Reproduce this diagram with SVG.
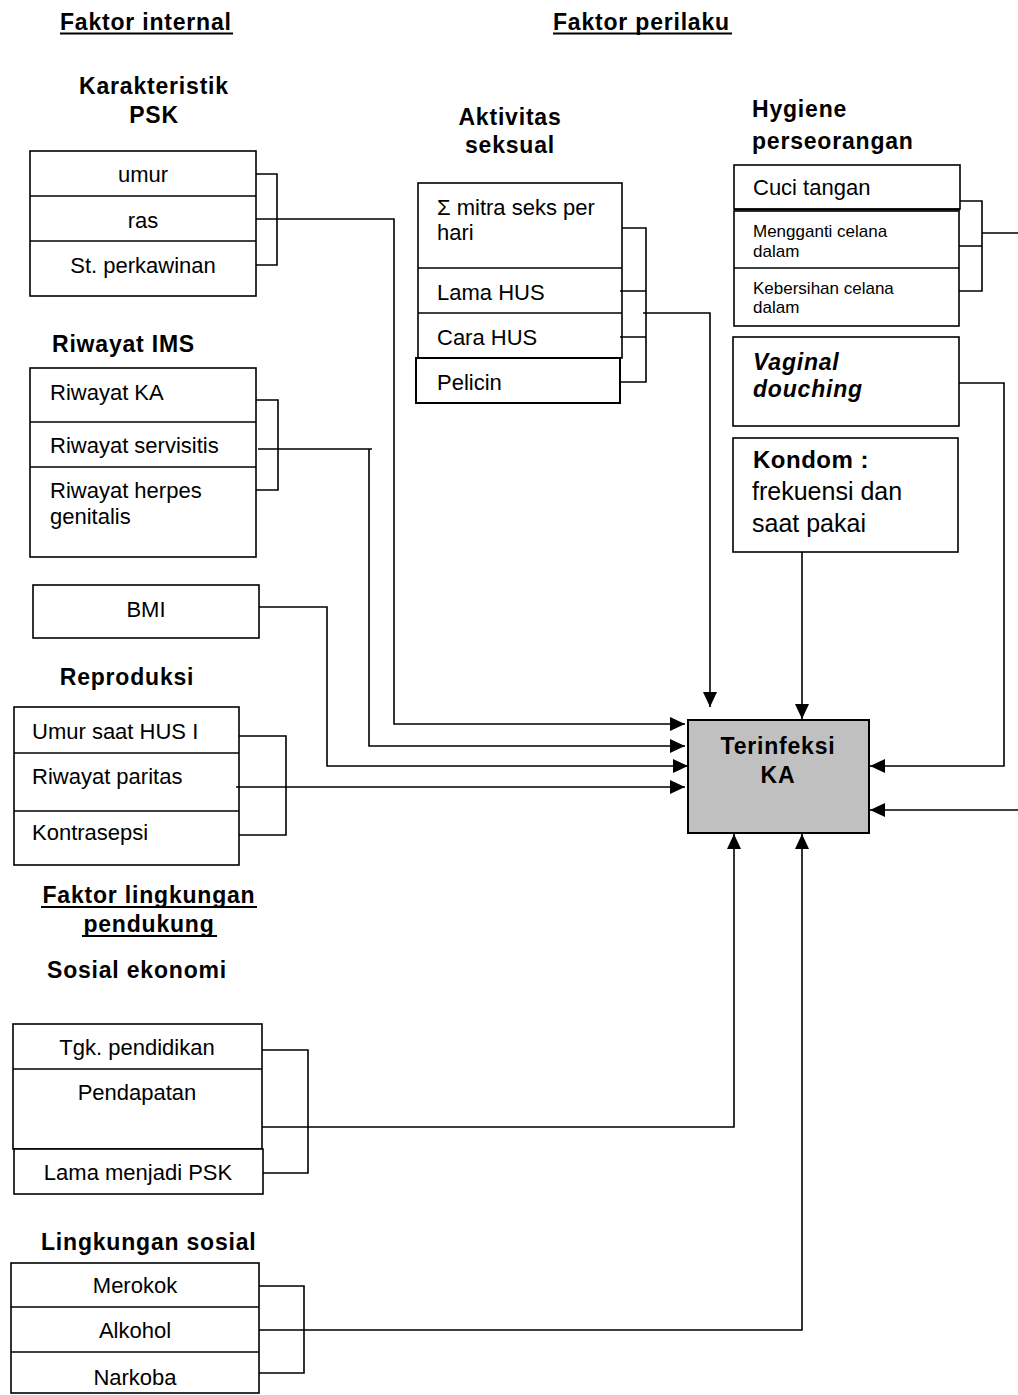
<svg xmlns="http://www.w3.org/2000/svg" width="1018" height="1395" viewBox="0 0 1018 1395">
<style>
text{font-family:"Liberation Sans",Arial,sans-serif;fill:#000}
.h{font-weight:bold;font-size:23px;letter-spacing:0.8px}
.t{font-size:22px}
.s{font-size:17px}
.k{font-size:25px}
.c{text-anchor:middle}
.box{fill:#fff;stroke:#000;stroke-width:1.6}
.div{stroke:#000;stroke-width:1.6}
.ul{stroke:#000;stroke-width:2}
.con path{fill:none;stroke:#000;stroke-width:1.6}
.arr{marker-end:url(#ah)}
</style>
<defs>
<marker id="ah" markerUnits="userSpaceOnUse" markerWidth="15" markerHeight="15" refX="15" refY="7" orient="auto">
<path d="M0,0 L15,7 L0,14 z" fill="#000"/>
</marker>
</defs>
<rect width="1018" height="1395" fill="#fff"/>

<g id="headers">
<text class="h" x="60" y="30">Faktor internal</text>
<line class="ul" x1="60" y1="33.5" x2="233" y2="33.5"/>
<text class="h" x="553" y="30">Faktor perilaku</text>
<line class="ul" x1="553" y1="33.5" x2="732" y2="33.5"/>
<text class="h c" x="149" y="903">Faktor lingkungan</text>
<line class="ul" x1="41" y1="907" x2="257" y2="907"/>
<text class="h c" x="149" y="932">pendukung</text>
<line class="ul" x1="82" y1="936" x2="217" y2="936"/>
</g>

<g id="karakteristik">
<text class="h c" x="154" y="94">Karakteristik</text>
<text class="h c" x="154" y="123">PSK</text>
<rect class="box" x="30" y="151" width="226" height="145"/>
<line class="div" x1="30" y1="196" x2="256" y2="196"/>
<line class="div" x1="30" y1="241" x2="256" y2="241"/>
<text class="t c" x="143" y="182">umur</text>
<text class="t c" x="143" y="228">ras</text>
<text class="t c" x="143" y="273">St. perkawinan</text>
</g>

<g id="aktivitas">
<text class="h c" x="510" y="125">Aktivitas</text>
<text class="h c" x="510" y="153">seksual</text>
<rect class="box" x="418" y="183" width="204" height="175"/>
<line class="div" x1="418" y1="268" x2="622" y2="268"/>
<line class="div" x1="418" y1="313" x2="622" y2="313"/>
<rect class="box" x="416" y="358" width="204" height="45" style="stroke-width:2"/>
<text class="t" x="437" y="215">Σ mitra seks per</text>
<text class="t" x="437" y="240">hari</text>
<text class="t" x="437" y="300">Lama HUS</text>
<text class="t" x="437" y="345">Cara HUS</text>
<text class="t" x="437" y="390">Pelicin</text>
</g>

<g id="hygiene">
<text class="h" x="752" y="117">Hygiene</text>
<text class="h" x="752" y="149">perseorangan</text>
<rect class="box" x="734" y="165" width="226" height="44"/>
<rect class="box" x="734" y="211" width="225" height="115"/>
<line class="div" x1="734" y1="209.5" x2="960" y2="209.5" style="stroke-width:2.2"/>
<line class="div" x1="734" y1="268" x2="959" y2="268"/>
<text class="t" x="753" y="195">Cuci tangan</text>
<text class="s" x="753" y="237">Mengganti celana</text>
<text class="s" x="753" y="257">dalam</text>
<text class="s" x="753" y="294">Kebersihan celana</text>
<text class="s" x="753" y="313">dalam</text>
</g>

<g id="vaginal">
<rect class="box" x="733" y="337" width="226" height="89"/>
<text class="h" x="753" y="370" font-style="italic">Vaginal</text>
<text class="h" x="753" y="397" font-style="italic">douching</text>
</g>

<g id="kondom">
<rect class="box" x="733" y="438" width="225" height="114"/>
<text class="h" x="753" y="468" style="font-size:24px;letter-spacing:0.5px">Kondom :</text>
<text class="k" x="752" y="500">frekuensi dan</text>
<text class="k" x="752" y="532">saat pakai</text>
</g>

<g id="riwayat-ims">
<text class="h" x="52" y="352">Riwayat IMS</text>
<rect class="box" x="30" y="368" width="226" height="189"/>
<line class="div" x1="30" y1="422" x2="256" y2="422"/>
<line class="div" x1="30" y1="467" x2="256" y2="467"/>
<text class="t" x="50" y="400">Riwayat KA</text>
<text class="t" x="50" y="453">Riwayat servisitis</text>
<text class="t" x="50" y="498">Riwayat herpes</text>
<text class="t" x="50" y="524">genitalis</text>
</g>

<g id="bmi">
<rect class="box" x="33" y="585" width="226" height="53"/>
<text class="t c" x="146" y="617">BMI</text>
</g>

<g id="reproduksi">
<text class="h c" x="127" y="685">Reproduksi</text>
<rect class="box" x="14" y="707" width="225" height="158"/>
<line class="div" x1="14" y1="753" x2="239" y2="753"/>
<line class="div" x1="14" y1="811" x2="239" y2="811"/>
<text class="t" x="32" y="739">Umur saat HUS I</text>
<text class="t" x="32" y="784">Riwayat paritas</text>
<text class="t" x="32" y="840">Kontrasepsi</text>
</g>

<g id="terinfeksi">
<rect x="688" y="720" width="181" height="113" fill="#c0c0c0" stroke="#000" stroke-width="2"/>
<text class="h c" x="778" y="754">Terinfeksi</text>
<text class="h c" x="778" y="783">KA</text>
</g>

<g id="sosial-ekonomi">
<text class="h" x="47" y="978">Sosial ekonomi</text>
<rect class="box" x="13" y="1024" width="249" height="125"/>
<line class="div" x1="13" y1="1069" x2="262" y2="1069"/>
<rect class="box" x="14" y="1149" width="249" height="45"/>
<text class="t c" x="137" y="1055">Tgk. pendidikan</text>
<text class="t c" x="137" y="1100">Pendapatan</text>
<text class="t c" x="138" y="1180">Lama menjadi PSK</text>
</g>

<g id="lingkungan-sosial">
<text class="h" x="41" y="1250">Lingkungan sosial</text>
<rect class="box" x="11" y="1263" width="248" height="130"/>
<line class="div" x1="11" y1="1307" x2="259" y2="1307"/>
<line class="div" x1="11" y1="1352" x2="259" y2="1352"/>
<text class="t c" x="135" y="1293">Merokok</text>
<text class="t c" x="135" y="1338">Alkohol</text>
<text class="t c" x="135" y="1385">Narkoba</text>
</g>

<g id="connectors" class="con">
<path d="M256,174 H277 V265 H256"/>
<path class="arr" d="M256,219 H394 V724 H685"/>
<path d="M622,228 H646 V382 H620 M620,291 H646 M620,337 H646"/>
<path class="arr" d="M643,313 H710 V707"/>
<path d="M960,201 H982 V291 H959 M959,246 H982 M982,233 H1018"/>
<path class="arr" d="M959,383 H1004 V766 H870"/>
<path class="arr" d="M1018,810 H870"/>
<path class="arr" d="M802,552 V719"/>
<path d="M256,400 H278 V490 H256 M258,449 H372"/>
<path class="arr" d="M369,449 V746 H685"/>
<path class="arr" d="M259,607 H327 V766 H688"/>
<path d="M239,736 H286 V835 H239"/>
<path class="arr" d="M236,787 H685"/>
<path d="M262,1050 H308 V1173 H263"/>
<path class="arr" d="M262,1127 H734 V834"/>
<path d="M259,1286 H304 V1373 H259"/>
<path class="arr" d="M259,1330 H802 V834"/>
</g>
</svg>
